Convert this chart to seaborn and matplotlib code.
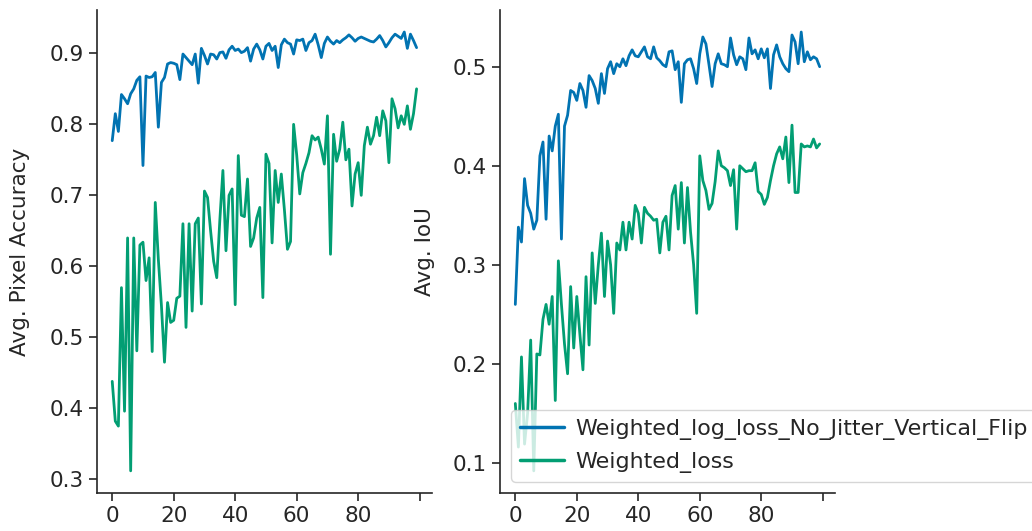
import numpy as np
import pandas as pd
import matplotlib
matplotlib.use("Agg")
import matplotlib.pyplot as plt
import seaborn as sns

# Per-epoch validation metrics for two training runs
epochs = list(range(100))
run_names = ["Weighted_log_loss_No_Jitter_Vertical_Flip", "Weighted_loss"]

acc_flip = [
    0.777, 0.815, 0.790, 0.842, 0.836, 0.829, 0.843, 0.850, 0.862, 0.867,
    0.742, 0.868, 0.866, 0.867, 0.873, 0.796, 0.859, 0.866, 0.885, 0.887,
    0.886, 0.884, 0.863, 0.899, 0.894, 0.889, 0.884, 0.899, 0.858, 0.907,
    0.897, 0.885, 0.899, 0.898, 0.892, 0.901, 0.902, 0.893, 0.905, 0.910,
    0.904, 0.906, 0.901, 0.903, 0.908, 0.889, 0.906, 0.913, 0.905, 0.892,
    0.910, 0.914, 0.904, 0.910, 0.880, 0.912, 0.920, 0.915, 0.913, 0.899,
    0.919, 0.918, 0.920, 0.904, 0.915, 0.918, 0.927, 0.912, 0.894, 0.914,
    0.923, 0.917, 0.913, 0.918, 0.915, 0.919, 0.922, 0.926, 0.922, 0.917,
    0.921, 0.923, 0.921, 0.919, 0.917, 0.916, 0.920, 0.925, 0.918, 0.909,
    0.915, 0.922, 0.927, 0.924, 0.921, 0.930, 0.907, 0.927, 0.918, 0.908,
]
acc_plain = [
    0.438, 0.382, 0.375, 0.570, 0.396, 0.640, 0.312, 0.640, 0.481, 0.630,
    0.634, 0.580, 0.612, 0.480, 0.690, 0.610, 0.545, 0.465, 0.549, 0.521,
    0.524, 0.555, 0.558, 0.660, 0.514, 0.660, 0.537, 0.660, 0.668, 0.547,
    0.706, 0.697, 0.650, 0.607, 0.584, 0.665, 0.735, 0.622, 0.700, 0.709,
    0.546, 0.756, 0.672, 0.670, 0.723, 0.628, 0.640, 0.668, 0.683, 0.556,
    0.758, 0.745, 0.633, 0.735, 0.690, 0.730, 0.680, 0.624, 0.635, 0.800,
    0.757, 0.702, 0.732, 0.745, 0.760, 0.784, 0.778, 0.782, 0.765, 0.744,
    0.812, 0.617, 0.786, 0.748, 0.765, 0.803, 0.750, 0.765, 0.685, 0.730,
    0.746, 0.700, 0.770, 0.796, 0.772, 0.784, 0.810, 0.784, 0.819, 0.805,
    0.746, 0.836, 0.822, 0.795, 0.812, 0.800, 0.826, 0.793, 0.815, 0.850,
]
iou_flip = [
    0.260, 0.338, 0.323, 0.387, 0.360, 0.352, 0.336, 0.345, 0.410, 0.424,
    0.346, 0.430, 0.415, 0.440, 0.452, 0.326, 0.440, 0.451, 0.476, 0.474,
    0.466, 0.483, 0.476, 0.459, 0.491, 0.486, 0.478, 0.463, 0.493, 0.473,
    0.498, 0.505, 0.493, 0.503, 0.500, 0.508, 0.501, 0.511, 0.517, 0.511,
    0.510, 0.515, 0.520, 0.510, 0.508, 0.520, 0.509, 0.506, 0.502, 0.500,
    0.515, 0.516, 0.497, 0.505, 0.464, 0.503, 0.507, 0.508, 0.498, 0.483,
    0.513, 0.530, 0.523, 0.502, 0.480, 0.503, 0.513, 0.503, 0.502, 0.500,
    0.529, 0.512, 0.502, 0.510, 0.508, 0.497, 0.529, 0.513, 0.517, 0.508,
    0.518, 0.509, 0.518, 0.478, 0.512, 0.522, 0.510, 0.503, 0.498, 0.495,
    0.532, 0.525, 0.503, 0.535, 0.505, 0.515, 0.507, 0.510, 0.508, 0.500,
]
iou_plain = [
    0.160, 0.116, 0.207, 0.119, 0.150, 0.224, 0.092, 0.210, 0.209, 0.245,
    0.260, 0.240, 0.268, 0.163, 0.304, 0.260, 0.220, 0.190, 0.278, 0.216,
    0.268, 0.230, 0.194, 0.288, 0.219, 0.312, 0.261, 0.300, 0.332, 0.268,
    0.324, 0.300, 0.251, 0.322, 0.315, 0.343, 0.315, 0.343, 0.326, 0.360,
    0.352, 0.322, 0.358, 0.352, 0.349, 0.345, 0.346, 0.312, 0.343, 0.349,
    0.315, 0.370, 0.380, 0.336, 0.383, 0.322, 0.378, 0.333, 0.300, 0.251,
    0.410, 0.385, 0.375, 0.356, 0.362, 0.384, 0.415, 0.400, 0.398, 0.395,
    0.380, 0.396, 0.336, 0.400, 0.397, 0.394, 0.395, 0.395, 0.403, 0.374,
    0.371, 0.361, 0.368, 0.385, 0.400, 0.412, 0.419, 0.407, 0.429, 0.383,
    0.441, 0.373, 0.373, 0.422, 0.419, 0.420, 0.419, 0.427, 0.418, 0.422,
]

xtick_pos = [0, 20, 40, 60, 80, 100]
xtick_labels = ["0", "20", "40", "60", "80", ""]

df = pd.DataFrame({
    "epoch": epochs * 2,
    "acc": acc_flip + acc_plain,
    "iou": iou_flip + iou_plain,
    "run": [run_names[0]] * len(epochs) + [run_names[1]] * len(epochs),
})

sns.set_style("ticks")
plt.rcParams["font.family"] = ["DejaVu Sans"]
palette = {run_names[0]: "#0173b2", run_names[1]: "#029e73"}

FS = 15.5

fig, (ax1, ax2) = plt.subplots(1, 2, figsize=(10.32, 5.31), dpi=100)
fig.subplots_adjust(left=0.094, right=0.809, bottom=0.072, top=0.981, wspace=0.204)

sns.lineplot(data=df, x="epoch", y="acc", hue="run", palette=palette,
             linewidth=2.0, ax=ax1, legend=False)
sns.lineplot(data=df, x="epoch", y="iou", hue="run", palette=palette,
             linewidth=2.0, ax=ax2)

ax1.set_ylabel("Avg. Pixel Accuracy", fontsize=FS, labelpad=14)
ax2.set_ylabel("Avg. IoU", fontsize=FS, labelpad=13)
for ax in (ax1, ax2):
    ax.set_xlabel("")
    ax.set_xticks(xtick_pos)
    ax.set_xticklabels(xtick_labels)
    ax.tick_params(labelsize=FS, length=6, width=1.2, colors=".15")
    for s in ax.spines.values():
        s.set_linewidth(1.2)

leg = ax2.legend(loc="lower left", fontsize=15.9, title=None,
                 handletextpad=0.5, labelspacing=0.55)
for line in leg.get_lines():
    line.set_linewidth(2.5)
sns.despine(fig)

fig.savefig("out.png", dpi=100)
